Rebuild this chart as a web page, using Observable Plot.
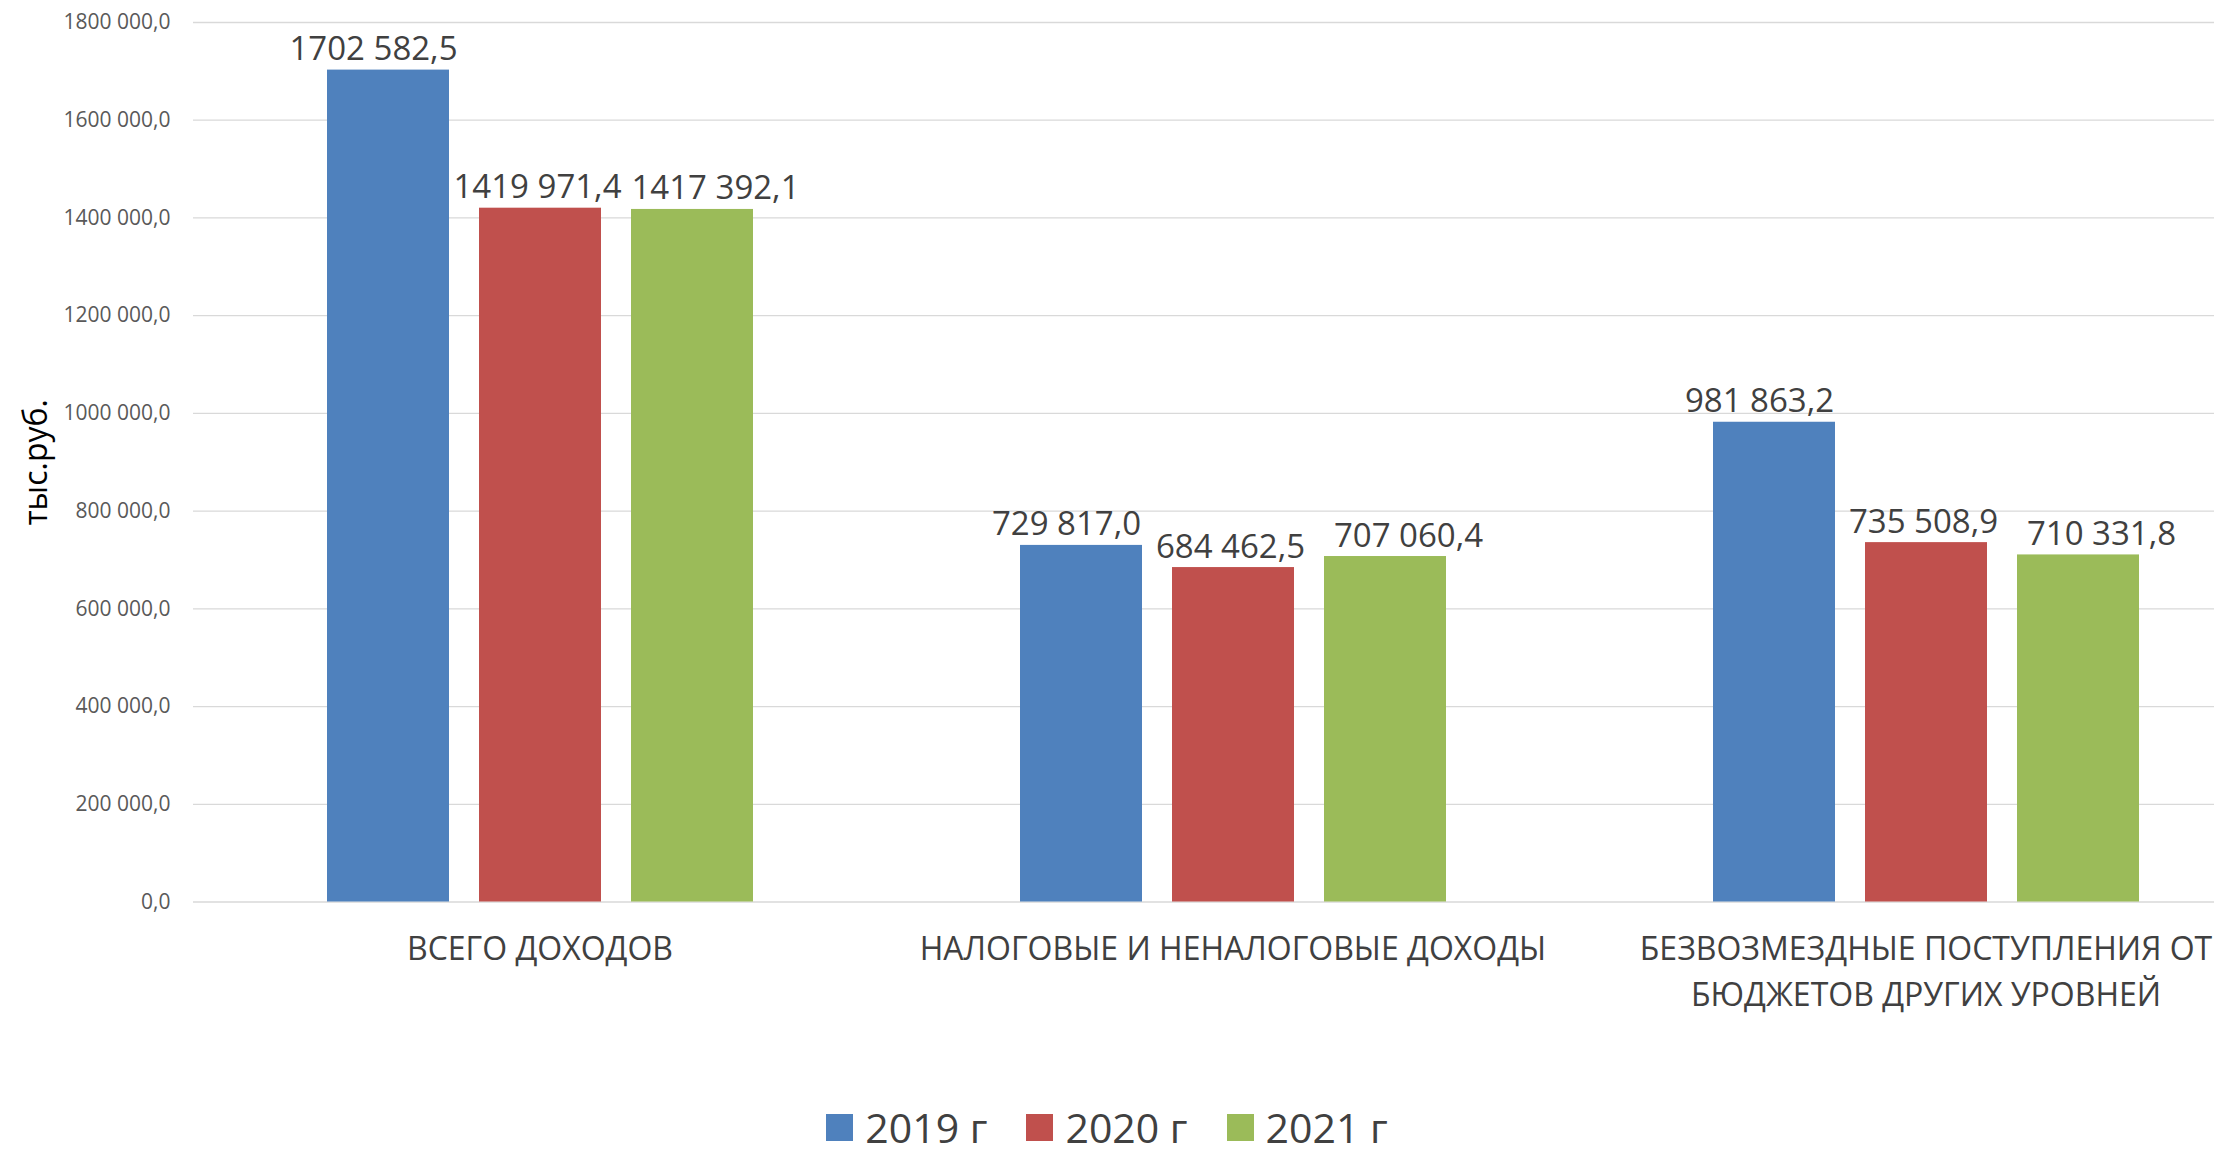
<!DOCTYPE html>
<html>
<head>
<meta charset="utf-8">
<script src="https://cdn.jsdelivr.net/npm/d3@7"></script>
<script src="https://cdn.jsdelivr.net/npm/@observablehq/plot@0.6"></script>
<style>
html, body { margin: 0; padding: 0; background: #fff; overflow: hidden; }
#chart { position: relative; width: 2214px; height: 1155px; background: #fff; }
#chart > svg { display: block; }
.lg-swatches {
  position: absolute !important; left: 0; top: 1099px; width: 2214px; height: 56px; min-height: 0 !important;
  margin: 0 !important; justify-content: center; line-height: normal;
  font-family: "Open Sans", sans-serif !important; font-size: 41px !important; color: #404040;
}
.lg-swatches .lg-swatch { margin-right: 39px !important; }
.lg-swatches .lg-swatch:last-child { margin-right: 0 !important; }
.lg-swatch > svg { margin-right: 12px !important; }
</style>
</head>
<body>
<div id="chart"></div>
<script>
const categories = ["ВСЕГО ДОХОДОВ", "НАЛОГОВЫЕ И НЕНАЛОГОВЫЕ ДОХОДЫ", "БЕЗВОЗМЕЗДНЫЕ ПОСТУПЛЕНИЯ ОТ БЮДЖЕТОВ ДРУГИХ УРОВНЕЙ"];
const categoryLabels = ["ВСЕГО ДОХОДОВ", "НАЛОГОВЫЕ И НЕНАЛОГОВЫЕ ДОХОДЫ", "БЕЗВОЗМЕЗДНЫЕ ПОСТУПЛЕНИЯ ОТ\nБЮДЖЕТОВ ДРУГИХ УРОВНЕЙ"];
const years = ["2019 г", "2020 г", "2021 г"];
const values2019 = [1702582.5, 729817.0, 981863.2];
const values2020 = [1419971.4, 684462.5, 735508.9];
const values2021 = [1417392.1, 707060.4, 710331.8];
const yTicks = [0, 200000, 400000, 600000, 800000, 1000000, 1200000, 1400000, 1600000, 1800000];
const colors = ["#4F81BD", "#C0504D", "#9BBB59"];
const yTitle = "тыс.руб.";

const series = [values2019, values2020, values2021];
const data = [];
categories.forEach((c, ci) => years.forEach((yr, yi) => data.push({category: c, year: yr, value: series[yi][ci]})));

function fmt(v) {
  const s = Number(v).toFixed(1);
  const [int, dec] = s.split(".");
  const i = int.length > 3 ? int.slice(0, -3) + " " + int.slice(-3) : int;
  return i + "," + dec;
}

// label nudges per series (as Excel shifts overlapping data labels)
const labelShift = [-15, -3, 23];
const labelMarks = years.map((yr, yi) =>
  Plot.text(data.filter(d => d.year === yr), {
    fx: "category", x: "year", y: "value", text: d => fmt(d.value),
    lineAnchor: "bottom", dy: -10, dx: labelShift[yi], fontSize: 33, fill: "#404040"
  })
);

const chart = Plot.plot({
  width: 2214,
  height: 1100,
  marginLeft: 192,
  marginRight: -58.5,
  marginTop: 22,
  marginBottom: 198.5,
  style: {fontFamily: '"Open Sans", sans-serif', background: "#fff"},
  fx: {domain: categories, padding: 0, label: null},
  x: {domain: years, paddingInner: 0.2, paddingOuter: 0.866, axis: null},
  y: {domain: [0, 1800000], axis: null},
  color: {domain: years, range: colors},
  marks: [
    Plot.gridY(yTicks, {stroke: "#D9D9D9", strokeOpacity: 1, strokeWidth: 1.3}),
    Plot.barY(data, {fx: "category", x: "year", y: "value", fill: "year"}),
    ...labelMarks,
    Plot.axisY({ticks: yTicks, tickFormat: fmt, tickSize: 0, tickPadding: 23, fontSize: 21, color: "#595959", label: null}),
    Plot.axisFx({anchor: "bottom", tickSize: 0, tickPadding: 26, fontSize: 32, lineHeight: 1.42, color: "#404040", label: null,
      tickFormat: c => categoryLabels[categories.indexOf(c)]}),
    Plot.text([yTitle], {frameAnchor: "left", textAnchor: "middle", rotate: -90, dx: -157, fontSize: 32, fill: "#000", facet: "super"})
  ]
});
const root = document.getElementById("chart");
root.appendChild(chart);
const legend = chart.legend("color", {legend: "swatches", swatchSize: 27, className: "lg"});
root.appendChild(legend);
</script>
</body>
</html>
